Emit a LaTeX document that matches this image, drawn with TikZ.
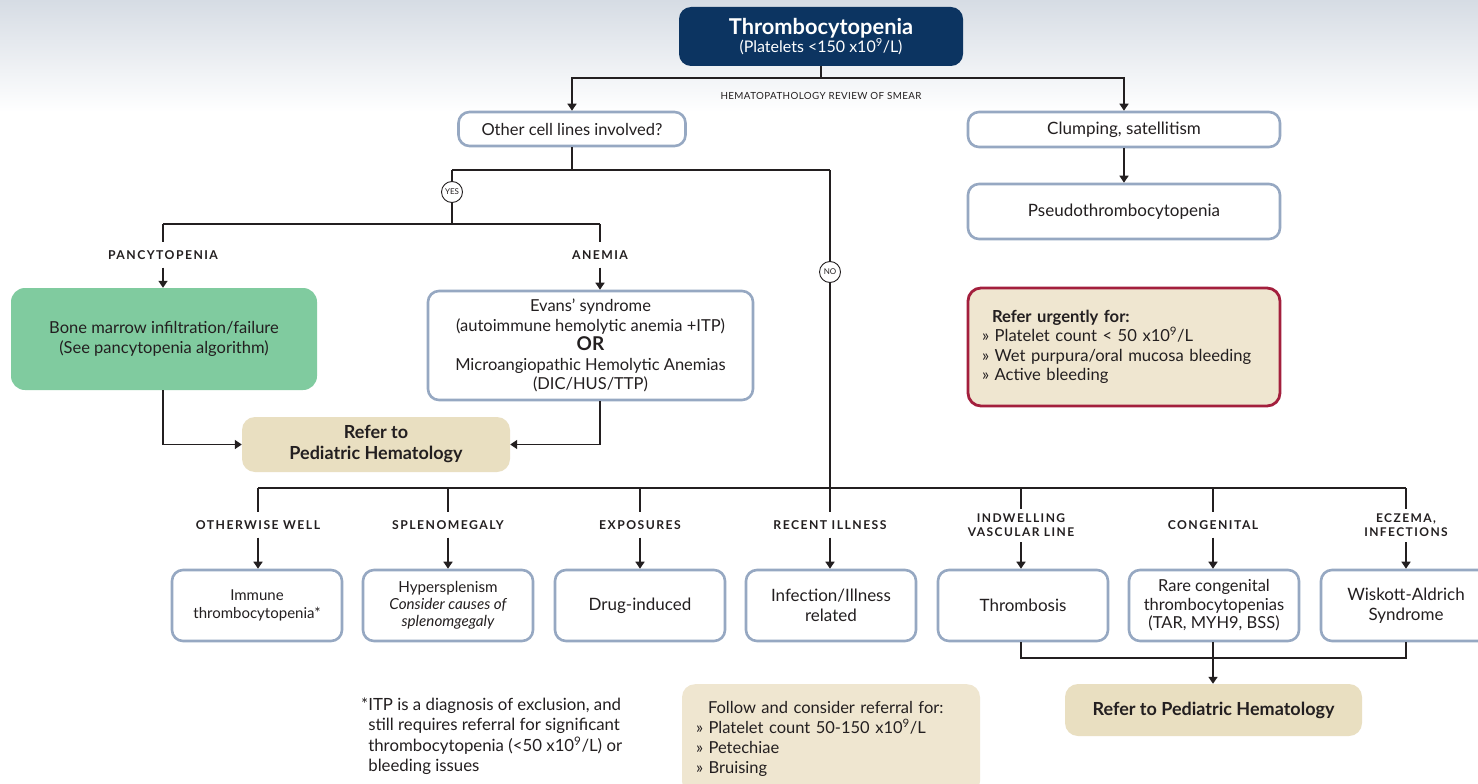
\documentclass[tikz,border=0pt]{standalone}
\usepackage{fontspec}
\setmainfont{Lato}
\newfontfamily\capsfont[LetterSpace=12]{Lato}
\newfontfamily\notefont[LetterSpace=4]{Lato}
\usetikzlibrary{arrows.meta}
\definecolor{ink}{HTML}{231F20}
\definecolor{navy}{HTML}{0C3461}
\definecolor{boxblue}{HTML}{96A8C2}
\definecolor{mint}{HTML}{80CB9F}
\definecolor{sand}{HTML}{E9DFC1}
\definecolor{cream}{HTML}{EFE6D0}
\definecolor{crimson}{HTML}{A31F3D}
\definecolor{haze}{HTML}{D6DCE4}

\begin{document}
\begin{tikzpicture}[x=1pt,y=-1pt,
  txt/.style={font=\fontsize{16.5}{19.5}\selectfont, text=ink},
  box/.style={txt, draw=boxblue, line width=2.6pt, rounded corners=11pt, fill=white, align=center, inner sep=2pt},
  leafbox/.style={box, minimum width=170pt, minimum height=71pt},
  referbox/.style={fill=sand, rounded corners=13pt, align=center, text=ink, font=\bfseries\fontsize{18}{21}\selectfont},
  branch/.style={text=ink, align=center, font=\capsfont\bfseries\fontsize{12.2}{14}\selectfont, inner xsep=1pt, inner ysep=8pt},
  ring/.style={circle, draw=ink, line width=0.9pt, fill=white, inner sep=0pt, minimum size=21pt, font=\fontsize{8}{8}\selectfont, text=ink},
  conn/.style={draw=ink, line width=1.6pt},
  arr/.style={conn, -{Triangle[length=7pt,width=9pt]}}
]
\useasboundingbox (0,0) rectangle (1478,784);
% header haze
\fill[top color=haze, bottom color=white] (0,0) rectangle (1478,112);
\fill[white] (0,112) rectangle (1478,784);

% ---- top of the tree
\node[fill=navy, rounded corners=12pt, minimum width=284pt, minimum height=59pt, align=center, text=white, inner sep=2pt]
  (title) at (821,36.5)
  {{\bfseries\fontsize{21.8}{23}\selectfont Thrombocytopenia}\\[-1pt]{\fontsize{16}{17}\selectfont (Platelets <150 x10\textsuperscript{9}/L)}};
\node[text=ink, font=\notefont\fontsize{9.8}{10}\selectfont] (smear) at (821,96) {HEMATOPATHOLOGY REVIEW OF SMEAR};

\node[box, minimum width=227pt, minimum height=34pt] (other) at (572,129) {Other cell lines involved?};
\node[box, minimum width=312pt, minimum height=35pt, font=\fontsize{17}{20}\selectfont] (clump) at (1124,129.5) {Clumping, satellitism};
\node[box, minimum width=312pt, minimum height=55pt, font=\fontsize{17}{20}\selectfont] (pseudo) at (1124,211.5) {Pseudothrombocytopenia};

\coordinate (tj) at (821,78);
\draw[conn] (title.south) -- (tj);
\draw[arr] (tj) -| (other.north);
\draw[arr] (tj) -| (clump.north);
\draw[arr] (clump.south) -- (pseudo.north);

% ---- yes / no split
\coordinate (oj) at (572,170);
\coordinate (yj) at (452,170);
\coordinate (nj) at (830,170);
\node[ring] (yes) at (452,192) {YES};
\node[ring] (no) at (830,272) {NO};
\draw[conn] (other.south) -- (oj);
\draw[conn] (yj) -- (nj);
\draw[conn] (yj) -- (yes.north);
\coordinate (yb) at (452,224);
\coordinate (pL) at (163,224);
\coordinate (pR) at (600,224);
\draw[conn] (yes.south) -- (yb);
\draw[conn] (pL) -- (pR);
\draw[conn] (nj) -- (no.north);

\node[branch] (pancy) at (163,255) {PANCYTOPENIA};
\node[branch] (anemia) at (600,255) {ANEMIA};
\draw[conn] (pL) -- (pancy.north);
\draw[conn] (pR) -- (anemia.north);

\node[fill=mint, rounded corners=14pt, minimum width=306pt, minimum height=102pt, align=center, txt] (marrow) at (164,339)
  {Bone marrow infiltration/failure\\(See pancytopenia algorithm)};
\node[box, minimum width=325pt, minimum height=109pt] (evans) at (590.5,345.5)
  {Evans’ syndrome\\(autoimmune hemolytic anemia +ITP)\\{\bfseries\fontsize{19}{19.5}\selectfont OR}\\Microangiopathic Hemolytic Anemias\\(DIC/HUS/TTP)};
\draw[arr] (pancy.south) -- (pancy.south |- marrow.north);
\draw[arr] (anemia.south) -- (anemia.south |- evans.north);

\node[referbox, minimum width=268pt, minimum height=55pt] (refer1) at (376,444.5) {Refer to\\Pediatric Hematology};
\draw[arr] (marrow.south -| pancy.south) |- (refer1.west);
\draw[arr] (evans.south -| anemia.south) |- (refer1.east);

% ---- urgent criteria
\node[draw=crimson, line width=2.8pt, fill=cream, rounded corners=13pt, minimum width=312pt, minimum height=118pt,
      text width=284pt, align=left, text=ink, font=\fontsize{16.6}{19.5}\selectfont] (urgent) at (1124,347)
  {\hspace*{10pt}{\bfseries Refer urgently for:}\\
   » Platelet count < 50 x10\textsuperscript{9}/L\\
   » Wet purpura/oral mucosa bleeding\\
   » Active bleeding};

% ---- "no" branches
\coordinate (bL) at (258,488);
\coordinate (bR) at (1406,488);
\coordinate (bN) at (830,488);
\draw[conn] (no.south) -- (bN);
\draw[conn] (bL) -- (bR);

\node[branch] (l1) at (258,525) {OTHERWISE WELL};
\node[branch] (l2) at (448,525) {SPLENOMEGALY};
\node[branch] (l3) at (640,525) {EXPOSURES};
\node[branch] (l4) at (830,525) {RECENT ILLNESS};
\node[branch, font=\capsfont\bfseries\fontsize{12}{13.8}\selectfont, inner ysep=5pt] (l5) at (1021,525.5) {INDWELLING\\VASCULAR LINE};
\node[branch] (l6) at (1213,525) {CONGENITAL};
\node[branch, font=\capsfont\bfseries\fontsize{12}{13.8}\selectfont, inner ysep=5pt] (l7) at (1406,525.5) {ECZEMA,\\INFECTIONS};

\node[leafbox, font=\fontsize{15}{17.5}\selectfont] (b1) at (257,605.5) {Immune\\thrombocytopenia*};
\node[leafbox, font=\fontsize{15.2}{16.8}\selectfont] (b2) at (448,605.5) {Hypersplenism\\\itshape Consider causes of\\\itshape splenomgegaly};
\node[leafbox, font=\fontsize{17}{19.5}\selectfont] (b3) at (640,605.5) {Drug-induced};
\node[leafbox, font=\fontsize{17}{19.5}\selectfont] (b4) at (831,605.5) {Infection/Illness\\related};
\node[leafbox, font=\fontsize{17}{19.5}\selectfont] (b5) at (1023,605.5) {Thrombosis};
\node[leafbox, font=\fontsize{16.5}{18.5}\selectfont] (b6) at (1214,605.5) {Rare congenital\\thrombocytopenias\\(TAR, MYH9, BSS)};
\node[leafbox, font=\fontsize{17}{19.5}\selectfont] (b7) at (1406,605.5) {Wiskott-Aldrich\\Syndrome};

\foreach \i/\x in {1/258,2/448,3/640,5/1021,6/1213,7/1406}{
  \draw[conn] (\x,488) -- (l\i.north);
}
\draw[conn] (bN) -- (l4.north);
\foreach \i in {1,...,7}{
  \draw[arr] (l\i.south) -- (l\i.south |- b\i.north);
}

% ---- merge of the last three
\node[referbox, minimum width=297pt, minimum height=52pt] (refer2) at (1213.5,710) {Refer to Pediatric Hematology};
\coordinate (mL) at (1021,658);
\coordinate (mR) at (1406,658);
\draw[conn] (b5.south -| l5.south) -- (mL) -- (mR) -- (b7.south -| l7.south);
\draw[arr] (b6.south -| l6.south) -- (refer2.north -| l6.south);

% ---- follow-up box and footnote
\node[fill=cream, rounded corners=13pt, minimum width=298pt, minimum height=110pt, text width=270pt, align=left,
      anchor=north, text=ink, font=\fontsize{16.5}{20}\selectfont, inner ysep=9pt] (follow) at (831,684)
  {\hspace*{12pt}Follow and consider referral for:\\
   » Platelet count 50-150 x10\textsuperscript{9}/L\\
   » Petechiae\\
   » Bruising};

\node[anchor=north west, text=ink, font=\fontsize{16.8}{20.3}\selectfont, inner sep=0pt] (note) at (361,696)
  {\begin{tabular}{@{}l@{}l@{}}
   *&ITP is a diagnosis of exclusion, and\\
    &still requires referral for significant\\
    &thrombocytopenia (<50 x10\textsuperscript{9}/L) or\\
    &bleeding issues
   \end{tabular}};
\end{tikzpicture}
\end{document}
